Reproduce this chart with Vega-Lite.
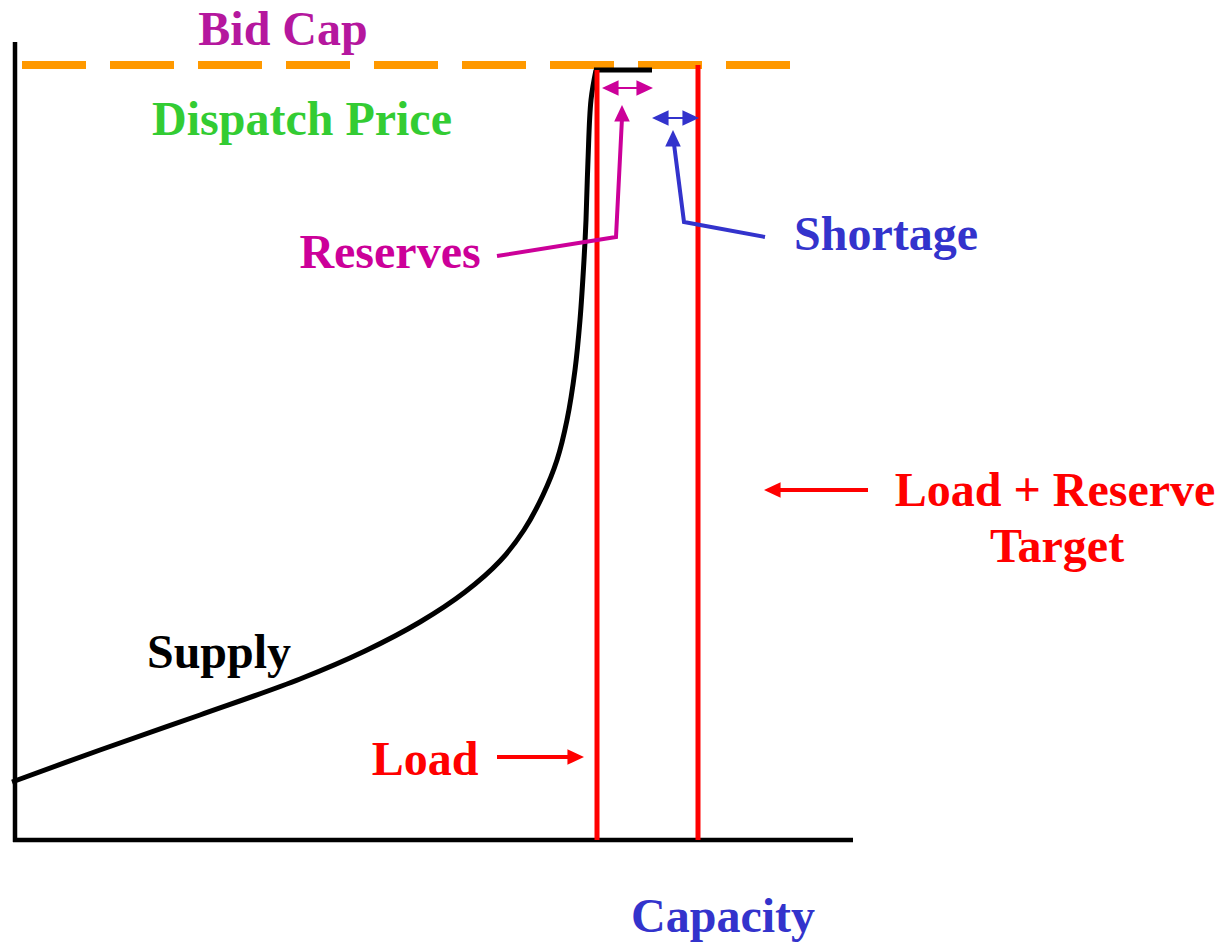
{
  "$schema": "https://vega.github.io/schema/vega-lite/v6.json",
  "width": 1229,
  "height": 943,
  "padding": 0,
  "autosize": "none",
  "background": "white",
  "config": {"view": {"stroke": null}},
  "encoding": {
    "x": {"field": "x", "type": "quantitative", "scale": {"domain": [0, 1229], "nice": false, "zero": false}, "axis": null},
    "y": {"field": "y", "type": "quantitative", "scale": {"domain": [0, 943], "reverse": true, "nice": false, "zero": false}, "axis": null}
  },
  "layer": [
    {
      "data": {"values": [
        {"part": "y-axis", "x": 15, "y": 42},
        {"part": "y-axis", "x": 15, "y": 842},
        {"part": "x-axis", "x": 13, "y": 840},
        {"part": "x-axis", "x": 853, "y": 840}
      ]},
      "mark": {"type": "line", "color": "black", "strokeWidth": 4.5, "clip": false},
      "encoding": {"detail": {"field": "part"}}
    },
    {
      "data": {"values": [{"x": 22, "x2": 792, "y": 65}]},
      "mark": {"type": "rule", "color": "#FF9900", "strokeWidth": 8, "strokeDash": [64, 24], "strokeCap": "butt"},
      "encoding": {"x2": {"field": "x2"}}
    },
    {
      "data": {"values": [
        {"x": 12, "y": 782}, {"x": 100, "y": 750}, {"x": 200, "y": 715},
        {"x": 300, "y": 679}, {"x": 365, "y": 651}, {"x": 420, "y": 622},
        {"x": 465, "y": 592}, {"x": 500, "y": 561}, {"x": 524, "y": 530},
        {"x": 543, "y": 495}, {"x": 557, "y": 460}, {"x": 567, "y": 420},
        {"x": 575, "y": 370}, {"x": 580, "y": 320}, {"x": 584, "y": 260},
        {"x": 586, "y": 220}, {"x": 588, "y": 160}, {"x": 591, "y": 100},
        {"x": 596, "y": 70}
      ]},
      "mark": {"type": "line", "color": "black", "strokeWidth": 5, "interpolate": "catmull-rom"},
      "encoding": {"order": {"field": "x", "type": "quantitative"}}
    },
    {
      "data": {"values": [{"x": 594, "x2": 652, "y": 70}]},
      "mark": {"type": "rule", "color": "black", "strokeWidth": 5},
      "encoding": {"x2": {"field": "x2"}}
    },
    {
      "data": {"values": [
        {"line": "Load", "x": 597, "y": 70, "y2": 840},
        {"line": "Load + Reserve Target", "x": 698, "y": 65, "y2": 840}
      ]},
      "mark": {"type": "rule", "color": "#FF0000", "strokeWidth": 5},
      "encoding": {"y2": {"field": "y2"}}
    },
    {
      "data": {"values": [
        {"seg": "reserves-leader", "who": "reserves", "i": 0, "x": 497, "y": 256},
        {"seg": "reserves-leader", "who": "reserves", "i": 1, "x": 616, "y": 237},
        {"seg": "reserves-leader", "who": "reserves", "i": 2, "x": 622, "y": 118},
        {"seg": "shortage-leader", "who": "shortage", "i": 0, "x": 765, "y": 237},
        {"seg": "shortage-leader", "who": "shortage", "i": 1, "x": 684, "y": 222},
        {"seg": "shortage-leader", "who": "shortage", "i": 2, "x": 674, "y": 144},
        {"seg": "load-arrow", "who": "load", "i": 0, "x": 497, "y": 757},
        {"seg": "load-arrow", "who": "load", "i": 1, "x": 572, "y": 757},
        {"seg": "target-arrow", "who": "load", "i": 0, "x": 868, "y": 490},
        {"seg": "target-arrow", "who": "load", "i": 1, "x": 776, "y": 490}
      ]},
      "mark": {"type": "line", "strokeWidth": 4, "strokeCap": "butt", "strokeJoin": "miter"},
      "encoding": {
        "detail": {"field": "seg"},
        "order": {"field": "i", "type": "quantitative"},
        "color": {"field": "who", "type": "nominal", "legend": null,
          "scale": {"domain": ["bidcap", "dispatch", "reserves", "shortage", "supply", "load", "capacity"],
                    "range": ["#B5179E", "#33CC33", "#CC0099", "#3333CC", "#000000", "#FF0000", "#3333CC"]}}
      }
    },
    {
      "data": {"values": [
        {"seg": "reserves-span", "who": "reserves", "i": 0, "x": 610, "y": 88},
        {"seg": "reserves-span", "who": "reserves", "i": 1, "x": 645, "y": 88},
        {"seg": "shortage-span", "who": "shortage", "i": 0, "x": 660, "y": 118},
        {"seg": "shortage-span", "who": "shortage", "i": 1, "x": 691, "y": 118}
      ]},
      "mark": {"type": "line", "strokeWidth": 2},
      "encoding": {
        "detail": {"field": "seg"},
        "order": {"field": "i", "type": "quantitative"},
        "color": {"field": "who", "type": "nominal", "legend": null}
      }
    },
    {
      "data": {"values": [
        {"who": "reserves", "dir": "left", "x": 602, "y": 88},
        {"who": "reserves", "dir": "right", "x": 653, "y": 88},
        {"who": "shortage", "dir": "left", "x": 652, "y": 118},
        {"who": "shortage", "dir": "right", "x": 699, "y": 118},
        {"who": "reserves", "dir": "up", "x": 622, "y": 105},
        {"who": "shortage", "dir": "up", "x": 673, "y": 130},
        {"who": "load", "dir": "right", "x": 584, "y": 757},
        {"who": "load", "dir": "left", "x": 764, "y": 490}
      ]},
      "mark": {"type": "point", "filled": true, "opacity": 1, "size": 1100, "strokeWidth": 0},
      "encoding": {
        "shape": {"field": "dir", "type": "nominal", "legend": null,
          "scale": {"domain": ["up", "left", "right"],
                    "range": ["M0,0L-0.47,1L0.47,1Z", "M0,0L1,-0.47L1,0.47Z", "M0,0L-1,-0.47L-1,0.47Z"]}},
        "color": {"field": "who", "type": "nominal", "legend": null}
      }
    },
    {
      "data": {"values": [
        {"label": "Bid Cap", "who": "bidcap", "x": 283, "y": 45},
        {"label": "Dispatch Price", "who": "dispatch", "x": 302, "y": 135},
        {"label": "Reserves", "who": "reserves", "x": 390, "y": 268},
        {"label": "Shortage", "who": "shortage", "x": 886, "y": 250},
        {"label": "Supply", "who": "supply", "x": 219, "y": 668},
        {"label": "Load", "who": "load", "x": 425, "y": 775},
        {"label": "Load + Reserve", "who": "load", "x": 1055, "y": 506},
        {"label": "Target", "who": "load", "x": 1057, "y": 562},
        {"label": "Capacity", "who": "capacity", "x": 723, "y": 932}
      ]},
      "mark": {"type": "text", "font": "Liberation Serif", "fontWeight": "bold", "fontSize": 48, "align": "center", "baseline": "alphabetic"},
      "encoding": {
        "text": {"field": "label"},
        "color": {"field": "who", "type": "nominal", "legend": null}
      }
    }
  ]
}
